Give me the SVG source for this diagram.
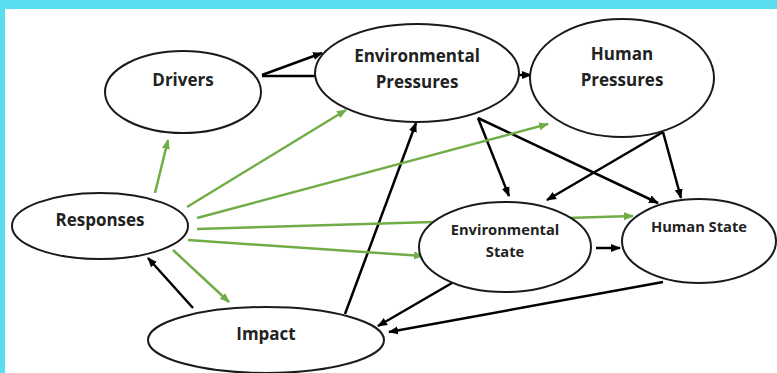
<svg xmlns="http://www.w3.org/2000/svg" width="777" height="373" viewBox="0 0 777 373">
<defs>
<marker id="ab" viewBox="0 0 10 10" refX="9" refY="5" markerWidth="4" markerHeight="4" orient="auto" markerUnits="strokeWidth"><path d="M0,1 L10,5 L0,9 z" fill="#000"/></marker>
<marker id="ag" viewBox="0 0 10 10" refX="9" refY="5" markerWidth="4" markerHeight="4" orient="auto" markerUnits="strokeWidth"><path d="M0,1 L10,5 L0,9 z" fill="#70AD47"/></marker>
</defs>
<style>
.n ellipse{fill:#fff;stroke:#1a1a1a;stroke-width:2}
.n text{font-family:"Open Sans","Liberation Sans",sans-serif;font-weight:bold;font-size:17px;fill:#222;text-anchor:middle}
.n text.s{font-size:14.7px}
.b{stroke:#000;stroke-width:2.5;fill:none;marker-end:url(#ab)}
.b0{stroke:#000;stroke-width:2.5;fill:none}
.g{stroke:#70AD47;stroke-width:2.5;fill:none;marker-end:url(#ag)}
</style>
<rect x="0" y="0" width="777" height="373" fill="#fff"/>
<rect x="0" y="0" width="777" height="9" fill="#5BDDF0"/>
<rect x="0" y="0" width="5" height="373" fill="#5BDDF0"/>
<g id="connectors">
<line class="b" x1="262" y1="75" x2="322" y2="53"/>
<line class="b0" x1="262" y1="76" x2="316" y2="76"/>
<line class="b" x1="519" y1="75" x2="531" y2="75"/>
<line class="b" x1="478" y1="118" x2="509" y2="196"/>
<line class="b" x1="478" y1="118" x2="658" y2="203"/>
<line class="b" x1="663" y1="132" x2="547" y2="200"/>
<line class="b" x1="663" y1="132" x2="681" y2="198"/>
<line class="b" x1="345" y1="314" x2="416" y2="123"/>
<line class="b" x1="596" y1="248" x2="620" y2="248"/>
<line class="b" x1="452" y1="283" x2="378" y2="326"/>
<line class="b" x1="663" y1="282" x2="389" y2="332"/>
<line class="b" x1="193" y1="308" x2="148" y2="258"/>
<line class="g" x1="155" y1="193" x2="168" y2="140"/>
<line class="g" x1="187" y1="207" x2="346" y2="110"/>
<line class="g" x1="197" y1="218" x2="548" y2="124"/>
<line class="g" x1="197" y1="229" x2="633" y2="216"/>
<line class="g" x1="188" y1="240" x2="423" y2="256"/>
<line class="g" x1="173" y1="250" x2="229" y2="302"/>
</g>
<g id="drivers" class="n"><ellipse cx="183" cy="92" rx="78" ry="41"/><text x="183" y="86">Drivers</text></g>
<g id="env-pressures" class="n"><ellipse cx="417" cy="73" rx="102" ry="49"/><text x="417" y="62">Environmental</text><text x="417" y="88">Pressures</text></g>
<g id="human-pressures" class="n"><ellipse cx="622" cy="78" rx="92" ry="59"/><text x="622" y="60">Human</text><text x="622" y="86">Pressures</text></g>
<g id="responses" class="n"><ellipse cx="100" cy="226" rx="88" ry="33"/><text x="100" y="226">Responses</text></g>
<g id="impact" class="n"><ellipse cx="266" cy="340" rx="118" ry="33"/><text x="266" y="340">Impact</text></g>
<g id="env-state" class="n"><ellipse cx="505" cy="247" rx="86" ry="45"/><text class="s" x="505" y="235">Environmental</text><text class="s" x="505" y="257">State</text></g>
<g id="human-state" class="n"><ellipse cx="699" cy="241" rx="77" ry="42"/><text class="s" x="699" y="232">Human State</text></g>
</svg>
